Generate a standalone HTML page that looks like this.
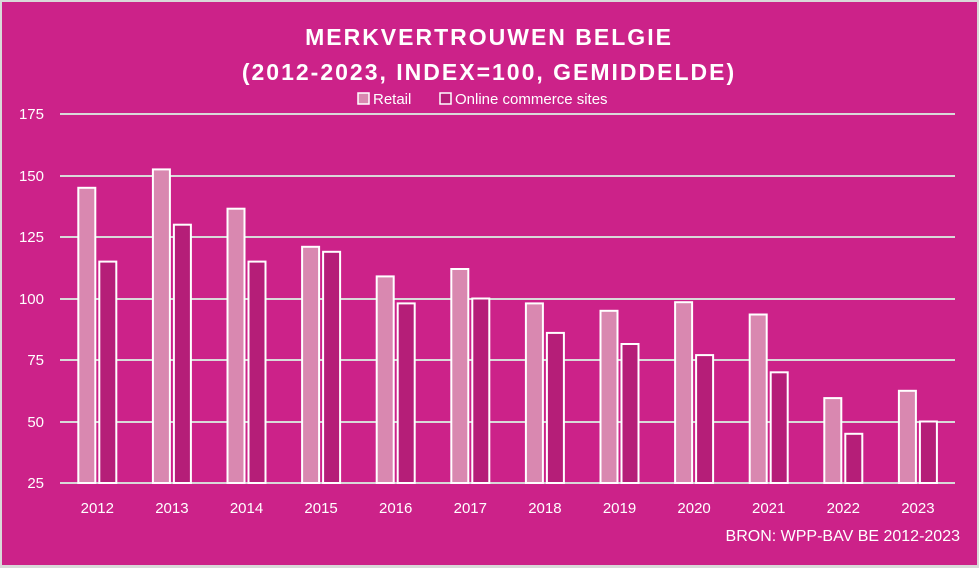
<!DOCTYPE html>
<html><head><meta charset="utf-8"><style>
html,body{margin:0;padding:0;background:#d9d9d9}
svg{display:block;font-family:"Liberation Sans",sans-serif}
</style></head><body>
<svg width="979" height="568" xmlns="http://www.w3.org/2000/svg">
<rect x="0" y="0" width="979" height="568" fill="#d9d9d9"/>
<rect x="2" y="2" width="975" height="563" fill="#cc2289"/>
<text x="489" y="45" text-anchor="middle" fill="#fff" font-weight="bold" font-size="23" letter-spacing="2">MERKVERTROUWEN  BELGIE</text>
<text x="489" y="80" text-anchor="middle" fill="#fff" font-weight="bold" font-size="23" letter-spacing="2">(2012-2023, INDEX=100, GEMIDDELDE)</text>
<rect x="358" y="93" width="11" height="11" fill="#d988b0" stroke="#fff" stroke-width="1.5"/>
<text x="373" y="104" fill="#fff" font-size="15">Retail</text>
<rect x="440" y="93" width="11" height="11" fill="#b51e78" stroke="#fff" stroke-width="1.5"/>
<text x="455" y="104" fill="#fff" font-size="15">Online commerce sites</text>
<g stroke="#d9d9d9" stroke-width="2">
<line x1="60" x2="955" y1="114" y2="114"/><line x1="60" x2="955" y1="176" y2="176"/>
<line x1="60" x2="955" y1="237" y2="237"/><line x1="60" x2="955" y1="299" y2="299"/>
<line x1="60" x2="955" y1="360" y2="360"/><line x1="60" x2="955" y1="422" y2="422"/>
<line x1="60" x2="955" y1="483" y2="483"/>
</g>
<g fill="#fff" font-size="15" text-anchor="end">
<text x="44" y="119">175</text><text x="44" y="181">150</text><text x="44" y="242">125</text>
<text x="44" y="304">100</text><text x="44" y="365">75</text><text x="44" y="427">50</text><text x="44" y="488">25</text>
</g>
<g stroke="#fff" stroke-width="2" fill="#d988b0">
<rect x="78.3" y="187.8" width="17" height="295.2"/>
<rect x="152.9" y="169.4" width="17" height="313.6"/>
<rect x="227.5" y="208.7" width="17" height="274.3"/>
<rect x="302.1" y="246.8" width="17" height="236.2"/>
<rect x="376.7" y="276.4" width="17" height="206.6"/>
<rect x="451.3" y="269" width="17" height="214"/>
<rect x="525.9" y="303.4" width="17" height="179.6"/>
<rect x="600.5" y="310.8" width="17" height="172.2"/>
<rect x="675.1" y="302.2" width="17" height="180.8"/>
<rect x="749.7" y="314.5" width="17" height="168.5"/>
<rect x="824.3" y="398.1" width="17" height="84.9"/>
<rect x="898.9" y="390.8" width="17" height="92.2"/>
</g>
<g stroke="#fff" stroke-width="2" fill="#b51e78">
<rect x="99.3" y="261.6" width="17" height="221.4"/>
<rect x="173.9" y="224.7" width="17" height="258.3"/>
<rect x="248.5" y="261.6" width="17" height="221.4"/>
<rect x="323.1" y="251.8" width="17" height="231.2"/>
<rect x="397.7" y="303.4" width="17" height="179.6"/>
<rect x="472.3" y="298.5" width="17" height="184.5"/>
<rect x="546.9" y="332.9" width="17" height="150.1"/>
<rect x="621.5" y="344" width="17" height="139"/>
<rect x="696.1" y="355.1" width="17" height="127.9"/>
<rect x="770.7" y="372.3" width="17" height="110.7"/>
<rect x="845.3" y="433.8" width="17" height="49.2"/>
<rect x="919.9" y="421.5" width="17" height="61.5"/>
</g>
<g fill="#fff" font-size="15" text-anchor="middle">
<text x="97.3" y="513">2012</text><text x="171.9" y="513">2013</text><text x="246.5" y="513">2014</text>
<text x="321.1" y="513">2015</text><text x="395.7" y="513">2016</text><text x="470.3" y="513">2017</text>
<text x="544.9" y="513">2018</text><text x="619.5" y="513">2019</text><text x="694.1" y="513">2020</text>
<text x="768.7" y="513">2021</text><text x="843.3" y="513">2022</text><text x="917.9" y="513">2023</text>
</g>
<text x="960" y="541" text-anchor="end" fill="#fff" font-size="16">BRON: WPP-BAV BE 2012-2023</text>
</svg>
</body></html>
